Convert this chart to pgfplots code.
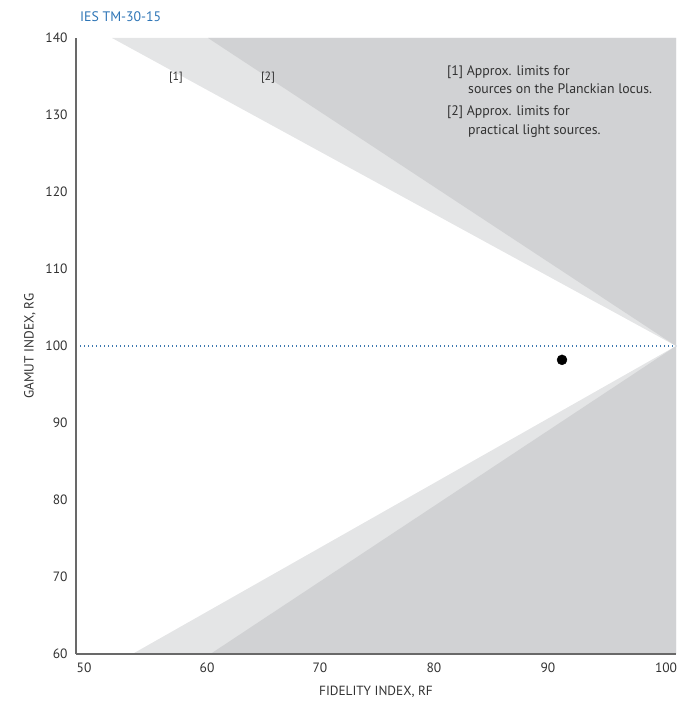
\documentclass[border=0pt]{standalone}
\usepackage{fontspec}
\setmainfont{PT Sans}
\usepackage{pgfplots}
\pgfplotsset{compat=1.18}
\definecolor{lightg}{RGB}{228,229,230}
\definecolor{darkg}{RGB}{209,210,212}
\definecolor{axg}{RGB}{105,105,105}
\definecolor{dotb}{RGB}{60,120,175}
\definecolor{titleb}{RGB}{46,117,182}
\definecolor{txt}{RGB}{50,50,50}
\begin{document}
\begin{tikzpicture}[x=1pt,y=1pt]
\begin{axis}[
  name=ax, at={(0,0)}, anchor=south west,
  scale only axis, width=600pt, height=616pt,
  xmin=50, xmax=100, ymin=60, ymax=140,
  axis x line*=bottom, axis y line*=left,
  axis line style={draw=axg, line width=1.6pt, -},
  xtick={50.67,60.92,70.33,79.83,89.33,99.17},
  xticklabels={50,60,70,80,90,100},
  ytick={60,70,...,140},
  major tick length=0pt,
  tick style={draw=none},
  /pgf/number format/assume math mode=true,
  ticklabel style={font=\fontsize{13.5}{15}\selectfont, text=txt},
  xticklabel style={yshift=-5pt},
  yticklabel style={xshift=-5pt},
  axis on top,
]
\addplot[fill=lightg, draw=none] coordinates {(53,140) (100,100) (100,140)} -- cycle;
\addplot[fill=darkg, draw=none] coordinates {(61,140) (100,100) (100,140)} -- cycle;
\addplot[fill=lightg, draw=none] coordinates {(54.7,60) (100,100) (100,60)} -- cycle;
\addplot[fill=darkg, draw=none] coordinates {(61.2,60) (100,100) (100,60)} -- cycle;
\addplot[dotb, line width=1.1pt, dash pattern=on 1.1pt off 2.9pt] coordinates {(50,100) (100,100)};
\addplot[only marks, mark=*, mark size=5pt, black] coordinates {(90.5,98.2)};
\node[text=txt, font=\fontsize{12}{13}\selectfont] at (axis cs:58.33,134.9) {[1]};
\node[text=txt, font=\fontsize{12}{13}\selectfont] at (axis cs:66,134.9) {[2]};
\end{axis}
\begin{scope}[every node/.style={text=txt, font=\fontsize{13.8}{15}\selectfont, inner sep=0pt}]
\node[anchor=west] at ([xshift=371pt,yshift=-34pt]ax.north west) {[1] Approx. limits for};
\node[anchor=west] at ([xshift=392pt,yshift=-51pt]ax.north west) {sources on the Planckian locus.};
\node[anchor=west] at ([xshift=371pt,yshift=-74pt]ax.north west) {[2] Approx. limits for};
\node[anchor=west] at ([xshift=392pt,yshift=-93pt]ax.north west) {practical light sources.};
\node[anchor=west, text=titleb, font=\fontsize{13.8}{15}\selectfont] at ([xshift=4pt,yshift=21pt]ax.north west) {IES TM-30-15};
\node[font=\fontsize{13.3}{15}\selectfont] at ([yshift=-38pt]ax.south) {FIDELITY INDEX, RF};
\node[rotate=90, font=\fontsize{13.3}{15}\selectfont] at ([xshift=-46pt]ax.west) {GAMUT INDEX, RG};
\end{scope}
\pgfresetboundingbox
\path ([xshift=-76pt,yshift=-50pt]ax.south west) rectangle ([xshift=1pt,yshift=38pt]ax.north east);
\end{tikzpicture}
\end{document}
